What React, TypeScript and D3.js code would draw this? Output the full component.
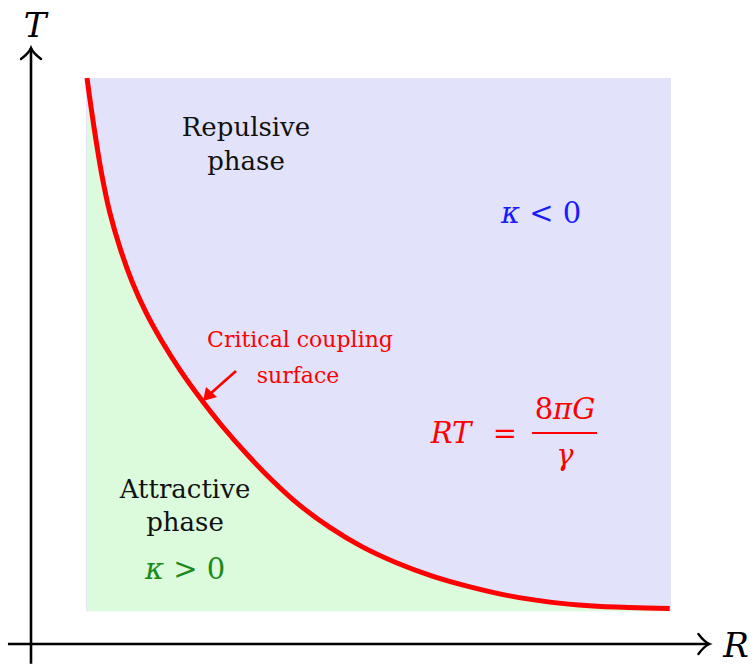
import React from "react";
import * as d3 from "d3";

// Critical coupling curve (R, T)
const curveR = [
  0.875, 0.94, 1.02, 1.11, 1.23, 1.39, 1.58, 1.8, 2.05, 2.33, 2.64, 2.98, 3.36,
  3.77, 4.2, 4.67, 5.17, 5.7, 6.27, 6.86, 7.48, 8.11, 8.73, 9.36, 9.98,
];
const curveT = [
  10.0, 9.47, 8.87, 8.27, 7.63, 7.0, 6.4, 5.85, 5.34, 4.84, 4.35, 3.86, 3.37,
  2.89, 2.45, 2.06, 1.72, 1.44, 1.2, 1.01, 0.85, 0.74, 0.675, 0.643, 0.627,
];

// shaded region extents
const shadeR = [0.86, 10.0];
const shadeT = [0.58, 10.0];

// axis extents
const axisR = [-0.36, 10.6];
const axisT = [-0.35, 10.53];

const W = 754;
const H = 664;

const serif = "'DejaVu Serif', 'Liberation Serif', serif";

export default function App() {
  const x = d3.scaleLinear().domain([0, 10]).range([31, 671]);
  const y = d3.scaleLinear().domain([0, 10]).range([644, 78]);

  const pts: [number, number][] = curveR.map((r, i) => [r, curveT[i]]);
  const line = d3
    .line<[number, number]>()
    .x((d) => x(d[0]))
    .y((d) => y(d[1]))
    .curve(d3.curveCatmullRom.alpha(0.5));
  const area = d3
    .area<[number, number]>()
    .x((d) => x(d[0]))
    .y0(y(shadeT[0]))
    .y1((d) => y(d[1]))
    .curve(d3.curveCatmullRom.alpha(0.5));

  const ax0 = x(0);
  const ay0 = y(0);
  const yTop = y(axisT[1]);
  const xRight = x(axisR[1]);

  return (
    <svg
      width={W}
      height={H}
      style={{ position: "absolute", left: 0, top: 0, background: "#fff" }}
    >
      <rect
        x={x(shadeR[0])}
        y={y(shadeT[1])}
        width={x(shadeR[1]) - x(shadeR[0])}
        height={y(shadeT[0]) - y(shadeT[1])}
        fill="#e2e2fa"
      />
      <path d={area(pts) || ""} fill="#dcfadc" />
      <path d={line(pts) || ""} fill="none" stroke="#ff0000" strokeWidth={5} />

      {/* axes */}
      <line x1={ax0} x2={ax0} y1={y(axisT[0])} y2={yTop} stroke="#000" strokeWidth={2.6} />
      <line x1={x(axisR[0])} x2={xRight} y1={ay0} y2={ay0} stroke="#000" strokeWidth={2.6} />
      <path
        d={`M${ax0 - 10},${yTop + 11} Q${ax0 - 2},${yTop + 5} ${ax0},${yTop} Q${ax0 + 2},${yTop + 5} ${ax0 + 10},${yTop + 11}`}
        fill="none"
        stroke="#000"
        strokeWidth={2.4}
        strokeLinecap="round"
      />
      <path
        d={`M${xRight - 11},${ay0 - 10} Q${xRight - 5},${ay0 - 2} ${xRight},${ay0} Q${xRight - 5},${ay0 + 2} ${xRight - 11},${ay0 + 10}`}
        fill="none"
        stroke="#000"
        strokeWidth={2.4}
        strokeLinecap="round"
      />
      <text x={35} y={37} style={{ fontFamily: serif }} fontStyle="italic" fontSize={34} textAnchor="middle">
        T
      </text>
      <text x={736} y={657} style={{ fontFamily: serif }} fontStyle="italic" fontSize={34} textAnchor="middle">
        R
      </text>

      {/* labels */}
      <g style={{ fontFamily: serif }} fontSize={26} textAnchor="middle" fill="#111">
        <text x={246} y={136}>Repulsive</text>
        <text x={246} y={170}>phase</text>
        <text x={185} y={498}>Attractive</text>
        <text x={185} y={531}>phase</text>
      </g>
      <text x={541} y={223} style={{ fontFamily: serif }} fontSize={29} textAnchor="middle" fill="#1a1aff">
        <tspan fontStyle="italic">κ</tspan> &lt; 0
      </text>
      <text x={185} y={579} style={{ fontFamily: serif }} fontSize={29} textAnchor="middle" fill="#1a8a1a">
        <tspan fontStyle="italic">κ</tspan> &gt; 0
      </text>

      <g style={{ fontFamily: serif }} fontSize={22} textAnchor="middle" fill="#ff0000">
        <text x={300} y={347}>Critical coupling</text>
        <text x={298} y={383}>surface</text>
      </g>
      <line x1={236} y1={371} x2={210} y2={394} stroke="#ff0000" strokeWidth={2.6} />
      <path d="M203,401 L206,387 L217,397 Z" fill="#ff0000" />

      <g style={{ fontFamily: serif }} fontSize={29} fill="#ff0000">
        <text x={451} y={443} textAnchor="middle" fontStyle="italic">RT</text>
        <text x={505} y={443} textAnchor="middle">=</text>
        <text x={565} y={419} textAnchor="middle">
          8<tspan fontStyle="italic">πG</tspan>
        </text>
        <text x={565} y={465} textAnchor="middle" fontStyle="italic">γ</text>
      </g>
      <line x1={532} x2={597} y1={433} y2={433} stroke="#ff0000" strokeWidth={2} />
    </svg>
  );
}
